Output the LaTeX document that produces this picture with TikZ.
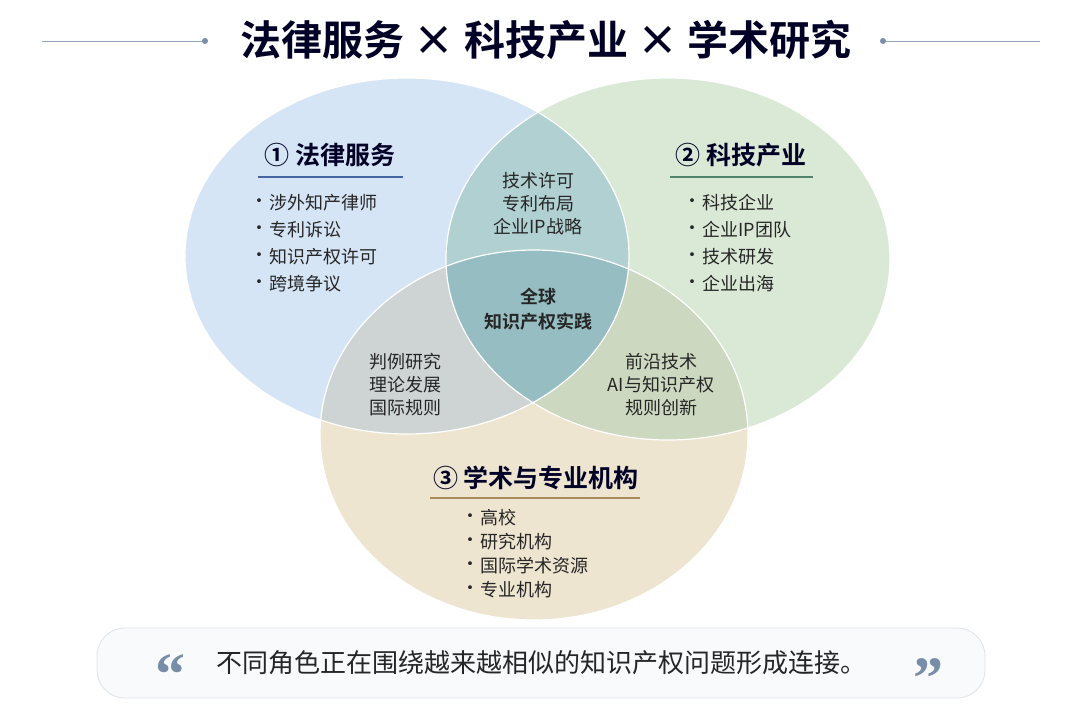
\documentclass[tikz,border=0pt]{standalone}
\usepackage{fontspec}
\setmainfont{Noto Sans CJK SC}
\newfontfamily\cjkb{Noto Sans CJK SC Bold}
\newfontfamily\qf{Liberation Serif}
\begin{document}
\begin{tikzpicture}[x=1pt,y=-1pt,
  ttl/.style={font=\cjkb\fontsize{41}{44}\selectfont,text=black!85!blue},
  hd/.style={font=\cjkb\fontsize{25}{28}\selectfont,text=black!85!blue},
  it/.style={font=\fontsize{18}{21}\selectfont,text=black!85,anchor=west},
  ov/.style={font=\fontsize{18}{22}\selectfont,text=black!85,align=center},
  bul/.style={font=\fontsize{18}{21}\selectfont,text=black!85}]
\definecolor{cb}{RGB}{214,229,245}
\definecolor{cg}{RGB}{218,232,214}
\definecolor{cy}{RGB}{238,229,208}
\definecolor{cbg}{RGB}{176,208,210}
\definecolor{cby}{RGB}{206,212,212}
\definecolor{cgy}{RGB}{204,216,192}
\definecolor{cc}{RGB}{150,190,194}
\definecolor{qc}{RGB}{120,142,168}
\definecolor{lb}{RGB}{70,100,160}
\definecolor{lg}{RGB}{80,130,110}
\definecolor{ly}{RGB}{170,140,90}
\useasboundingbox (0,0) rectangle (1080,720);
\fill[white] (0,0) rectangle (1080,720);
\def\EB{(407,256) ellipse [x radius=222,y radius=178]}
\def\EG{(668,259) ellipse [x radius=222,y radius=181]}
\def\EY{(534,435) ellipse [x radius=214,y radius=185]}
\fill[cb] \EB; \fill[cg] \EG; \fill[cy] \EY;
\begin{scope}\clip \EB; \fill[cbg] \EG; \fill[cby] \EY; \end{scope}
\begin{scope}\clip \EG; \fill[cgy] \EY; \end{scope}
\begin{scope}\clip \EB; \clip \EG; \fill[cc] \EY; \end{scope}
\draw[white,line width=1.2] \EB; \draw[white,line width=1.2] \EG; \draw[white,line width=1.2] \EY;
% title
\node[ttl] (t) at (546,40) {法律服务 × 科技产业 × 学术研究};
\coordinate (l1) at (42,41); \coordinate (l2) at (205,41);
\coordinate (r1) at (883,41); \coordinate (r2) at (1040,41);
\draw[qc!80,line width=0.8] (l1)--(l2); \fill[qc] (l2) circle (3);
\draw[qc!80,line width=0.8] (r1)--(r2); \fill[qc] (r1) circle (3);
% headings
\node[hd] (h1) at (330,155) {① 法律服务};
\draw[lb,line width=1.2] (258,177)--(403,177);
\node[hd] (h2) at (741,155) {② 科技产业};
\draw[lg,line width=1.2] (670,177)--(813,177);
\node[hd] (h3) at (536,478) {③ 学术与专业机构};
\draw[ly,line width=1.2] (430,498)--(640,498);
% items
\foreach \y/\t [count=\i] in {203/涉外知产律师,230/专利诉讼,257/知识产权许可,284/跨境争议}{
  \node[bul] (ba\i) at (259,\y) {·}; \node[it] (ia\i) at (266,\y) {\t};}
\foreach \y/\t [count=\i] in {203/科技企业,230/企业IP团队,257/技术研发,284/企业出海}{
  \node[bul] (bb\i) at (692,\y) {·}; \node[it] (ib\i) at (699,\y) {\t};}
\foreach \y/\t [count=\i] in {518/高校,542/研究机构,566/国际学术资源,590/专业机构}{
  \node[bul] (bc\i) at (470,\y) {·}; \node[it] (ic\i) at (477,\y) {\t};}
% overlaps
\node[ov] (o1) at (538,204) {技术许可\\[1pt]专利布局\\[1pt]企业IP战略};
\node[ov,font=\cjkb\fontsize{18}{22}\selectfont] (o2) at (538,309) {全球\\[3pt]知识产权实践};
\node[ov] (o3) at (405,385) {判例研究\\[1pt]理论发展\\[1pt]国际规则};
\node[ov] (o4) at (661,385) {前沿技术\\[1pt]AI与知识产权\\[1pt]规则创新};
% quote
\draw[fill={rgb,255:red,249;green,250;blue,252},draw={rgb,255:red,224;green,227;blue,234},line width=0.8,rounded corners=28] (97,628) rectangle (985,698);
\node[font=\qf\fontsize{60}{60}\selectfont\bfseries,text=qc] (q1) at (170,675) {“};
\node[font=\qf\fontsize{60}{60}\selectfont\bfseries,text=qc] (q2) at (928,679) {”};
\node[font=\fontsize{26}{30}\selectfont,text=black!85] (q) at (541,663) {不同角色正在围绕越来越相似的知识产权问题形成连接。};
\end{tikzpicture}
\end{document}
